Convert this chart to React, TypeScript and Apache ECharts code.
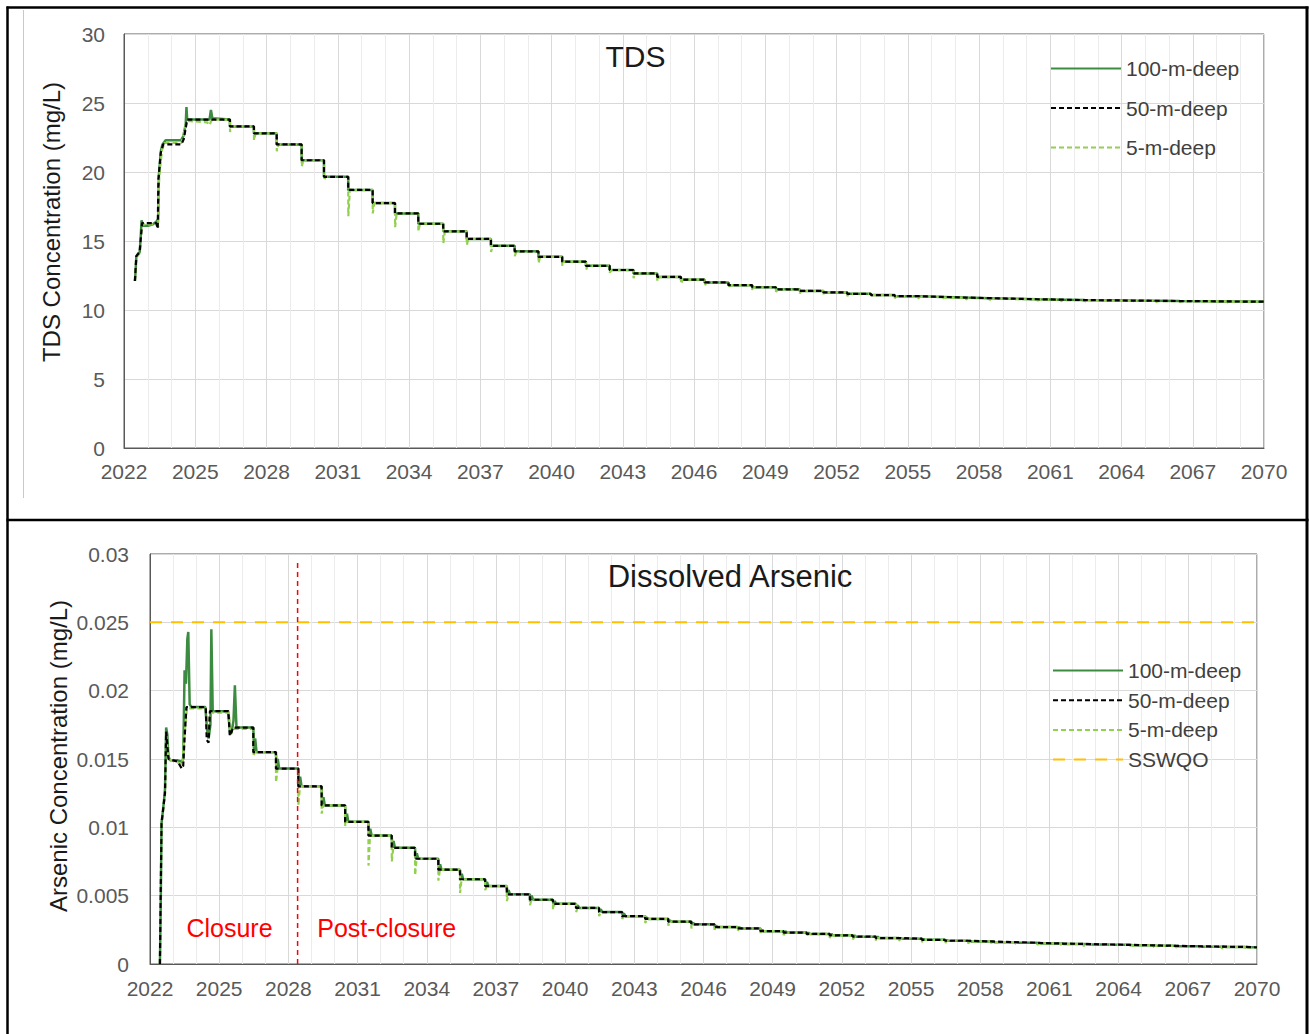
import React, { useEffect, useRef } from "react";
import * as echarts from "echarts";

type Pt = [number, number];

const FONT = "'Liberation Sans', Arial, sans-serif";

// ---------- shared axis data ----------
const xMin = 2022;
const xMax = 2070;
const xInterval = 3;
const depthNames = ["100-m-deep", "50-m-deep", "5-m-deep"];
const sswqoName = "SSWQO";

// ---------- TDS (mg/L) ----------
const tdsYMax = 30;
const tdsYInterval = 5;

const tds100Ramp: Pt[] = [
  [2022.46, 12.1], [2022.48, 12.6], [2022.52, 13.9], [2022.6, 14.1], [2022.66, 14.2],
  [2022.7, 15.2], [2022.74, 16.5], [2022.8, 16.1], [2023.0, 16.1], [2023.2, 16.2],
  [2023.36, 16.4], [2023.44, 16.6], [2023.47, 19.8], [2023.55, 21.5], [2023.62, 22.0],
  [2023.75, 22.3], [2024.4, 22.3], [2024.5, 22.6], [2024.6, 23.5], [2024.63, 24.7],
  [2024.66, 23.8], [2025.6, 23.8], [2025.66, 24.5], [2025.72, 23.9], [2026.46, 23.8],
];
const tds50Ramp: Pt[] = [
  [2022.46, 12.1], [2022.52, 13.9], [2022.66, 14.2], [2022.76, 16.3], [2023.36, 16.3],
  [2023.42, 15.9], [2023.45, 19.5], [2023.55, 21.4], [2023.65, 22.0], [2024.42, 22.0],
  [2024.52, 22.4], [2024.6, 23.2], [2024.66, 23.8], [2026.46, 23.8],
];
const tds5Ramp: Pt[] = [
  [2022.46, 12.1], [2022.52, 13.8], [2022.66, 14.1], [2022.76, 16.2], [2023.36, 16.2],
  [2023.44, 16.0], [2023.48, 19.6], [2023.6, 21.6], [2023.72, 22.1], [2024.42, 22.1],
  [2024.6, 23.4], [2024.7, 23.7], [2025.5, 23.6], [2025.6, 23.4], [2025.7, 23.8], [2026.46, 23.8],
];
const tdsStepYears = [
  2026.46, 2027.47, 2028.43, 2029.48, 2030.42, 2031.44, 2032.47, 2033.41, 2034.39, 2035.44,
  2036.43, 2037.45, 2038.45, 2039.45, 2040.45, 2041.45, 2042.45, 2043.45, 2044.45, 2045.45,
  2046.45, 2047.45, 2048.45, 2049.45, 2050.45, 2051.45, 2052.45, 2053.45, 2054.45, 2055.45,
  2056.45, 2057.45, 2058.45, 2059.45, 2060.45, 2061.45, 2062.45, 2063.45, 2064.45, 2065.45,
  2066.45, 2067.45, 2068.45, 2069.45,
];
const tdsStepValues = [
  23.3, 22.8, 22.0, 20.85, 19.65, 18.7, 17.75, 17.0, 16.25, 15.7,
  15.15, 14.65, 14.25, 13.85, 13.5, 13.2, 12.9, 12.65, 12.4, 12.2,
  12.0, 11.8, 11.65, 11.5, 11.38, 11.27, 11.17, 11.08, 11.0, 10.95,
  10.9, 10.86, 10.82, 10.78, 10.75, 10.72, 10.7, 10.68, 10.67, 10.65,
  10.64, 10.62, 10.61, 10.6,
];
const tds5Dips = [
  22.9, 22.3, 21.5, 20.4, 19.4, 16.8, 17.0, 16.0, 15.7, 14.85,
  14.7, 14.2, 13.9, 13.4, 13.2, 12.9, 12.7, 12.3, 12.1, 11.9,
  11.75, 11.6, 11.45, 11.3, 11.2, 11.1, 11.0, 10.95, 10.85, 10.8,
  10.8, 10.75, 10.7, 10.68, 10.65, 10.62, 10.6, 10.6, 10.58, 10.56,
  10.56, 10.55, 10.54, 10.53,
];

// ---------- Dissolved arsenic (mg/L) ----------
const asYMax = 0.03;
const asYInterval = 0.005;
const sswqoValue = 0.025;
const closureYear = 2028.4;
const closureLineTop = 0.0295;

const as100Ramp: Pt[] = [
  [2022.43, 0], [2022.47, 0.005], [2022.5, 0.0103], [2022.56, 0.0112], [2022.62, 0.0122],
  [2022.65, 0.0128], [2022.7, 0.0173], [2022.75, 0.0168], [2022.8, 0.0152], [2022.87, 0.0149],
  [2023.2, 0.0149], [2023.38, 0.0148], [2023.44, 0.015], [2023.5, 0.0215], [2023.56, 0.0205],
  [2023.62, 0.0238], [2023.66, 0.0243], [2023.72, 0.019], [2023.8, 0.0188], [2024.4, 0.0188],
  [2024.47, 0.0172], [2024.54, 0.0165], [2024.62, 0.0175], [2024.66, 0.0245], [2024.72, 0.0185],
  [2025.38, 0.0185], [2025.48, 0.0168], [2025.56, 0.0172], [2025.62, 0.0178], [2025.68, 0.0204],
  [2025.75, 0.0173], [2026.48, 0.0173],
];
const as50Ramp: Pt[] = [
  [2022.43, 0], [2022.5, 0.0103], [2022.65, 0.0125], [2022.7, 0.017], [2022.8, 0.015],
  [2023.2, 0.0148], [2023.38, 0.0143], [2023.44, 0.0145], [2023.5, 0.0165], [2023.58, 0.0188],
  [2024.42, 0.0188], [2024.46, 0.0164], [2024.54, 0.0162], [2024.6, 0.0185], [2025.4, 0.0185],
  [2025.46, 0.0167], [2025.52, 0.0169], [2025.6, 0.0173], [2026.48, 0.0173],
];
const as5Ramp: Pt[] = [
  [2022.43, 0], [2022.5, 0.0103], [2022.65, 0.0124], [2022.7, 0.0168], [2022.8, 0.015],
  [2023.4, 0.0146], [2023.5, 0.0168], [2023.6, 0.0187], [2024.42, 0.0187], [2024.5, 0.0165],
  [2024.6, 0.0184], [2025.42, 0.0184], [2025.5, 0.0168], [2025.62, 0.0172], [2026.48, 0.0172],
];
const asStepYears = [
  2026.48, 2027.46, 2028.43, 2029.44, 2030.46, 2031.47, 2032.48, 2033.49, 2034.5, 2035.44,
  2036.53, 2037.47, 2038.47, 2039.47, 2040.47, 2041.47, 2042.47, 2043.47, 2044.47, 2045.47,
  2046.47, 2047.47, 2048.47, 2049.47, 2050.47, 2051.47, 2052.47, 2053.47, 2054.47, 2055.47,
  2056.47, 2057.47, 2058.47, 2059.47, 2060.47, 2061.47, 2062.47, 2063.47, 2064.47, 2065.47,
  2066.47, 2067.47, 2068.47, 2069.47,
];
const asStepValues = [
  0.0155, 0.0143, 0.013, 0.0116, 0.0104, 0.0094, 0.0085, 0.0077, 0.0069, 0.0062,
  0.0057, 0.0051, 0.0047, 0.0044, 0.0041, 0.0038, 0.0035, 0.0033, 0.0031, 0.0029,
  0.0027, 0.0026, 0.0024, 0.0023, 0.0022, 0.0021, 0.002, 0.0019, 0.00185, 0.00177,
  0.0017, 0.00165, 0.0016, 0.00155, 0.0015, 0.00147, 0.00143, 0.0014, 0.00137, 0.00133,
  0.0013, 0.00127, 0.00125, 0.00122,
];
const as100Bumps = [
  0.0165, 0.015, 0.0137, 0.0122, 0.011, 0.0099, 0.009, 0.0081, 0.0073, 0.0066,
  0.006, 0.0054, 0.005, 0.0046, 0.0043, 0.004, 0.0037, 0.0034, 0.0032, 0.003,
  0.0028, 0.0027, 0.0025, 0.0024, 0.0023, 0.0022, 0.0021, 0.002, 0.0019, 0.00182,
  0.00175, 0.0017, 0.00165, 0.0016, 0.00155, 0.0015, 0.00147, 0.00143, 0.0014, 0.00136,
  0.00132, 0.0013, 0.00128, 0.00125,
];
const as5Dips = [
  0.0152, 0.0133, 0.0116, 0.011, 0.0101, 0.0072, 0.0075, 0.0065, 0.0061, 0.0052,
  0.0054, 0.0046, 0.0043, 0.004, 0.0038, 0.0035, 0.0033, 0.003, 0.0028, 0.0026,
  0.0025, 0.0024, 0.0022, 0.0021, 0.002, 0.0019, 0.0018, 0.0017, 0.0017, 0.0016,
  0.0015, 0.0015, 0.0015, 0.0014, 0.0014, 0.0014, 0.0013, 0.0013, 0.0013, 0.0012,
  0.0012, 0.0012, 0.0011, 0.0011,
];

// ---------- helpers ----------
function buildSteps(
  ramp: Pt[],
  years: number[],
  values: number[],
  mode: "plain" | "dip" | "bump",
  extra?: number[]
): Pt[] {
  const out: Pt[] = ramp.map((p) => [p[0], p[1]] as Pt);
  let prev = out[out.length - 1][1];
  years.forEach((yr, i) => {
    const v = values[i];
    out.push([yr, prev]);
    if (mode === "dip" && extra) {
      out.push([yr + 0.005, extra[i]]);
      out.push([yr + 0.07, v]);
    } else if (mode === "bump" && extra) {
      out.push([yr + 0.03, v]);
      out.push([yr + 0.08, extra[i]]);
      out.push([yr + 0.14, v]);
    } else {
      out.push([yr, v]);
    }
    prev = v;
  });
  out.push([xMax, prev]);
  return out;
}

const COLORS = {
  d100: "#3d8b40",
  d50: "#000000",
  d5: "#92d050",
  sswqo: "#ffc000",
  red: "#ff0000",
};

function xAxisCfg(gridIndex: number, margin: number) {
  return {
    type: "value",
    gridIndex,
    min: xMin,
    max: xMax,
    interval: xInterval,
    axisLine: { show: true, lineStyle: { color: "#595959", width: 1 } },
    axisTick: { show: false },
    axisLabel: {
      fontSize: 21,
      color: "#595959",
      fontFamily: FONT,
      margin,
      formatter: (v: number) => String(v),
    },
    splitLine: { show: true, lineStyle: { color: "#d9d9d9", width: 1 } },
    minorTick: { show: false, splitNumber: 3 },
    minorSplitLine: { show: true, lineStyle: { color: "#ececec", width: 1 } },
  };
}

function yAxisCfg(gridIndex: number, max: number, interval: number, margin: number) {
  return {
    type: "value",
    gridIndex,
    min: 0,
    max,
    interval,
    axisLine: { show: true, lineStyle: { color: "#595959", width: 1 } },
    axisTick: { show: false },
    axisLabel: { fontSize: 21, color: "#595959", fontFamily: FONT, margin },
    splitLine: { show: true, lineStyle: { color: "#d9d9d9", width: 1 } },
  };
}

function lineSeries(
  name: string,
  axisIndex: number,
  data: Pt[],
  color: string,
  width: number,
  type: any,
  z: number
) {
  return {
    name,
    type: "line",
    xAxisIndex: axisIndex,
    yAxisIndex: axisIndex,
    data,
    symbol: "none",
    showSymbol: false,
    z,
    itemStyle: { color },
    lineStyle: { color, width, type },
  };
}

function textEl(
  text: string,
  x: number,
  y: number,
  size: number,
  fill: string,
  rotation = 0
) {
  return {
    type: "text",
    x,
    y,
    rotation,
    z: 100,
    style: {
      text,
      fontSize: size,
      fontFamily: FONT,
      fill,
      align: "center",
      verticalAlign: "middle",
      textAlign: "center",
      textVerticalAlign: "middle",
    },
  };
}

function lineEl(x1: number, y1: number, x2: number, y2: number, color: string, w: number) {
  return {
    type: "line",
    z: 100,
    shape: { x1, y1, x2, y2 },
    style: { stroke: color, lineWidth: w },
  };
}

export default function App() {
  const ref = useRef<HTMLDivElement>(null);

  useEffect(() => {
    if (!ref.current) return;
    const chart = echarts.init(ref.current, undefined, { renderer: "svg" });

    const tds100 = buildSteps(tds100Ramp, tdsStepYears, tdsStepValues, "plain");
    const tds50 = buildSteps(tds50Ramp, tdsStepYears, tdsStepValues, "plain");
    const tds5 = buildSteps(tds5Ramp, tdsStepYears, tdsStepValues, "dip", tds5Dips);

    const as100 = buildSteps(as100Ramp, asStepYears, asStepValues, "bump", as100Bumps);
    const as50 = buildSteps(as50Ramp, asStepYears, asStepValues, "plain");
    const as5 = buildSteps(as5Ramp, asStepYears, asStepValues, "dip", as5Dips);

    const legendCommon = {
      orient: "vertical",
      itemWidth: 70,
      itemHeight: 14,
      padding: 0,
      selectedMode: false,
      itemStyle: { opacity: 0, borderWidth: 0 },
      textStyle: { fontSize: 21, color: "#404040", fontFamily: FONT, lineHeight: 20 },
    };

    const option: any = {
      animation: false,
      backgroundColor: "#ffffff",
      textStyle: { fontFamily: FONT },
      grid: [
        {
          left: 124, top: 34, width: 1140, height: 414,
          show: true, borderColor: "#595959", borderWidth: 1,
          outerBoundsMode: "none",
        },
        {
          left: 150, top: 554, width: 1107, height: 410,
          show: true, borderColor: "#595959", borderWidth: 1,
          outerBoundsMode: "none",
        },
      ],
      xAxis: [xAxisCfg(0, 13), xAxisCfg(1, 14)],
      yAxis: [yAxisCfg(0, tdsYMax, tdsYInterval, 19), yAxisCfg(1, asYMax, asYInterval, 21)],
      legend: [
        { ...legendCommon, data: depthNames, left: 1050, top: 58, itemGap: 18.5 },
        { ...legendCommon, data: [...depthNames, sswqoName], left: 1052, top: 660, itemGap: 8.7 },
      ],
      series: [
        lineSeries(depthNames[0], 0, tds100, COLORS.d100, 2.5, "solid", 2),
        lineSeries(depthNames[1], 0, tds50, COLORS.d50, 2.2, [5, 3], 4),
        lineSeries(depthNames[2], 0, tds5, COLORS.d5, 2.2, [5, 3], 3),
        lineSeries(depthNames[0], 1, as100, COLORS.d100, 2.5, "solid", 2),
        lineSeries(depthNames[1], 1, as50, COLORS.d50, 2.2, [5, 3], 4),
        lineSeries(depthNames[2], 1, as5, COLORS.d5, 2.2, [5, 3], 3),
        lineSeries(sswqoName, 1, [[xMin, sswqoValue], [xMax, sswqoValue]], COLORS.sswqo, 2, [12, 9], 5),
        lineSeries("closure-line", 1, [[closureYear, 0], [closureYear, closureLineTop]], COLORS.red, 1.5, [5, 4], 5),
      ],
      graphic: [
        // panel frames
        lineEl(7.5, 6.5, 7.5, 1034, "#000000", 2.5),
        lineEl(1307, 6.5, 1307, 1034, "#000000", 3),
        lineEl(6.5, 7.5, 1308.5, 7.5, "#000000", 2.5),
        lineEl(6.5, 520, 1308.5, 520, "#000000", 2.5),
        lineEl(23.5, 10, 23.5, 498, "#c8c8c8", 1),
        // titles
        textEl("TDS", 635.5, 56, 30, "#1a1a1a"),
        textEl("Dissolved Arsenic", 730, 576, 31, "#1a1a1a"),
        textEl("TDS Concentration (mg/L)", 51, 222, 24, "#1a1a1a", Math.PI / 2),
        textEl("Arsenic Concentration (mg/L)", 58, 756, 24, "#1a1a1a", Math.PI / 2),
        textEl("Closure", 229.5, 928, 25, COLORS.red),
        textEl("Post-closure", 386.7, 928, 25, COLORS.red),
      ],
    };

    chart.setOption(option);
    return () => chart.dispose();
  }, []);

  return (
    <div
      ref={ref}
      style={{ position: "absolute", left: 0, top: 0, width: 1310, height: 1034 }}
    />
  );
}
